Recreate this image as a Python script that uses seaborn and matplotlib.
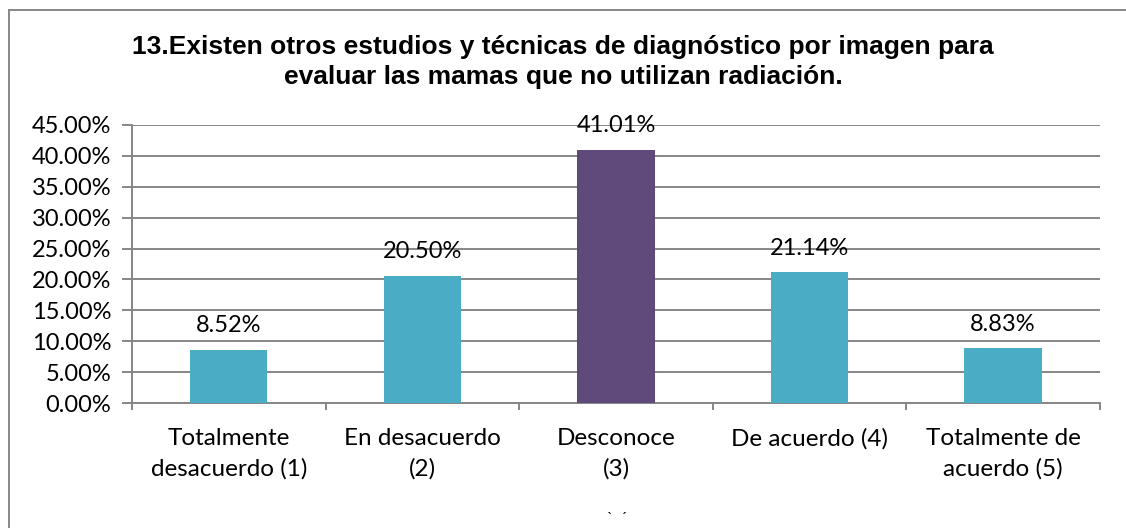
import matplotlib
matplotlib.use("Agg")
import matplotlib.pyplot as plt
import seaborn as sns
from matplotlib.ticker import FuncFormatter, FixedLocator
from matplotlib.patches import Rectangle

categorias = ["Totalmente\ndesacuerdo (1)", "En desacuerdo\n(2)", "Desconoce\n(3)",
              "De acuerdo (4)", "Totalmente de\nacuerdo (5)"]
porcentajes = [8.52, 20.50, 41.01, 21.14, 8.83]
colores = ["#4BACC6", "#4BACC6", "#604A7B", "#4BACC6", "#4BACC6"]
titulo = ("13.Existen otros estudios y técnicas de diagnóstico por imagen para\n"
          "evaluar las mamas que no utilizan radiación.")

sns.set_theme(style="white")
plt.rcParams["font.family"] = ["Lato", "DejaVu Sans"]

fig = plt.figure(figsize=(11.26, 5.28), dpi=100)
ax = fig.add_axes([0.1172, 0.2367, 0.8597, 0.5266])

sns.barplot(x=categorias, y=porcentajes, hue=categorias, palette=colores,
            legend=False, width=0.4, saturation=1, linewidth=0, ax=ax, zorder=3)

grid_c = "#868686"
ax.set_ylim(0, 45)
ax.set_xlim(-0.5, len(categorias) - 0.5)
ax.yaxis.set_major_locator(FixedLocator([i * 5 for i in range(10)]))
ax.yaxis.set_major_formatter(FuncFormatter(lambda v, p: f"{v:.2f}%"))
ax.grid(axis="y", color=grid_c, linewidth=1.4, zorder=0)
ax.set_axisbelow(True)
for s in ["top", "right"]:
    ax.spines[s].set_visible(False)
for s in ["left", "bottom"]:
    ax.spines[s].set_color(grid_c)
    ax.spines[s].set_linewidth(1.4)

ax.tick_params(axis="y", which="major", left=True, length=7, width=1.4,
               color=grid_c, labelsize=17, pad=8, labelcolor="black")
ax.tick_params(axis="x", which="major", bottom=False, labelsize=17.5,
               pad=12, labelcolor="black")
ax.xaxis.set_minor_locator(FixedLocator([i - 0.5 for i in range(len(categorias) + 1)]))
ax.tick_params(axis="x", which="minor", bottom=True, length=5, width=1.4, color=grid_c)
for t in ax.get_xticklabels():
    t.set_linespacing(1.5)
    t.set_horizontalalignment("center")
ax.set_xlabel("")
ax.set_ylabel("")

for i, v in enumerate(porcentajes):
    ax.annotate(f"{v:.2f}%", (i, v), xytext=(0, 10), textcoords="offset points",
                ha="center", va="bottom", fontsize=17, color="black")

fig.text(0.5, 0.882, titulo, ha="center", va="center", fontsize=19,
         fontweight="bold", family=["Liberation Sans", "DejaVu Sans"],
         linespacing=1.32, color="black")

# marco exterior del gráfico
fig.patches.append(Rectangle((9 / 1126, -0.05), 1.2, 1 - 10 / 528 + 0.05,
                             transform=fig.transFigure, fill=False,
                             edgecolor="#868686", linewidth=1.4))

fig.text(0.548, 0.004, "`  ´", ha="center", va="bottom", fontsize=11, color="black")

fig.savefig("out.png", dpi=100)
